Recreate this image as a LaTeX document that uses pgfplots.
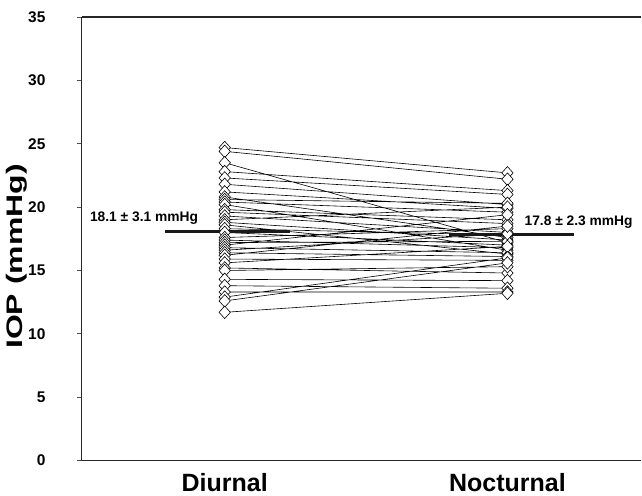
\documentclass[border=0pt]{standalone}
\usepackage{fontspec}
\setmainfont{Liberation Sans}
\usepackage{pgfplots}
\pgfplotsset{compat=1.18}

\begin{document}
\begin{tikzpicture}
\begin{axis}[
  scale only axis,
  width=560pt, height=444pt,
  xmin=0.495, xmax=2.474,
  ymin=0, ymax=35,
  axis x line*=box,
  axis y line*=left,
  axis line style={line width=1.1pt, black!85},
  xtick={1,2},
  xticklabels={Diurnal,Nocturnal},
  x tick style={draw=none},
  ytick={0,5,...,35},
  tick align=outside,
  major tick length=5pt,
  y tick style={line width=0.8pt, black!70},
  /pgf/number format/assume math mode=true,
  yticklabel style={font=\fontsize{15.5}{17}\selectfont\bfseries, anchor=east, xshift=-28pt},
  xticklabel style={font=\fontsize{25}{28}\selectfont\bfseries, anchor=base, yshift=-26pt},
  clip=false,
]
% individual eyes: diurnal -> nocturnal
\addplot[black, line width=0.6pt, unbounded coords=jump,
  mark=diamond*, mark size=6.3pt, mark options={fill=white, draw=black, line width=0.6pt, xscale=1.2}]
coordinates {
(1,24.7) (2,22.7) (1,nan)
(1,24.4) (2,22.2) (1,nan)
(1,23.5) (2,17.2) (1,nan)
(1,22.8) (2,21.3) (1,nan)
(1,22.3) (2,21.0) (1,nan)
(1,21.8) (2,20.2) (1,nan)
(1,21.2) (2,19.9) (1,nan)
(1,20.8) (2,17.6) (1,nan)
(1,20.6) (2,20.3) (1,nan)
(1,20.4) (2,19.6) (1,nan)
(1,20.2) (2,16.6) (1,nan)
(1,19.8) (2,19.0) (1,nan)
(1,19.6) (2,18.7) (1,nan)
(1,19.3) (2,18.0) (1,nan)
(1,19.0) (2,20.0) (1,nan)
(1,18.8) (2,17.4) (1,nan)
(1,18.6) (2,16.3) (1,nan)
(1,18.3) (2,17.8) (1,nan)
(1,18.0) (2,17.0) (1,nan)
(1,17.6) (2,18.3) (1,nan)
(1,17.4) (2,16.8) (1,nan)
(1,17.2) (2,17.3) (1,nan)
(1,17.0) (2,19.4) (1,nan)
(1,16.8) (2,16.4) (1,nan)
(1,16.6) (2,17.9) (1,nan)
(1,16.4) (2,16.1) (1,nan)
(1,16.2) (2,18.5) (1,nan)
(1,15.9) (2,15.8) (1,nan)
(1,15.6) (2,16.9) (1,nan)
(1,15.2) (2,14.8) (1,nan)
(1,15.0) (2,15.3) (1,nan)
(1,14.3) (2,14.2) (1,nan)
(1,13.8) (2,13.6) (1,nan)
(1,13.3) (2,13.3) (1,nan)
(1,12.9) (2,16.0) (1,nan)
(1,12.6) (2,15.6) (1,nan)
(1,11.7) (2,13.2)
};
% group means
\addplot[black!90, line width=3pt] coordinates {(0.788,18.1) (1.23,18.1)};
\addplot[black!90, line width=3pt] coordinates {(1.795,17.8) (2.237,17.8)};
\node[anchor=base west, font=\fontsize{13.8}{15}\selectfont\bfseries, inner sep=0pt]
  at (axis cs:0.523,18.84) {18.1 ± 3.1 mmHg};
\node[anchor=base west, font=\fontsize{13.8}{15}\selectfont\bfseries, inner sep=0pt]
  at (axis cs:2.06,18.55) {17.8 ± 2.3 mmHg};
% y axis title
\node[rotate=90, anchor=center, inner sep=0pt, font=\fontsize{22.5}{25}\selectfont\bfseries]
  at (axis description cs:-0.116,0.46) {\scalebox{1.42}[1]{IOP (mmHg)}};
\end{axis}
\path (current axis.south west) ++(-82pt,-35pt) rectangle ++(642pt,496pt);
\end{tikzpicture}
\end{document}
